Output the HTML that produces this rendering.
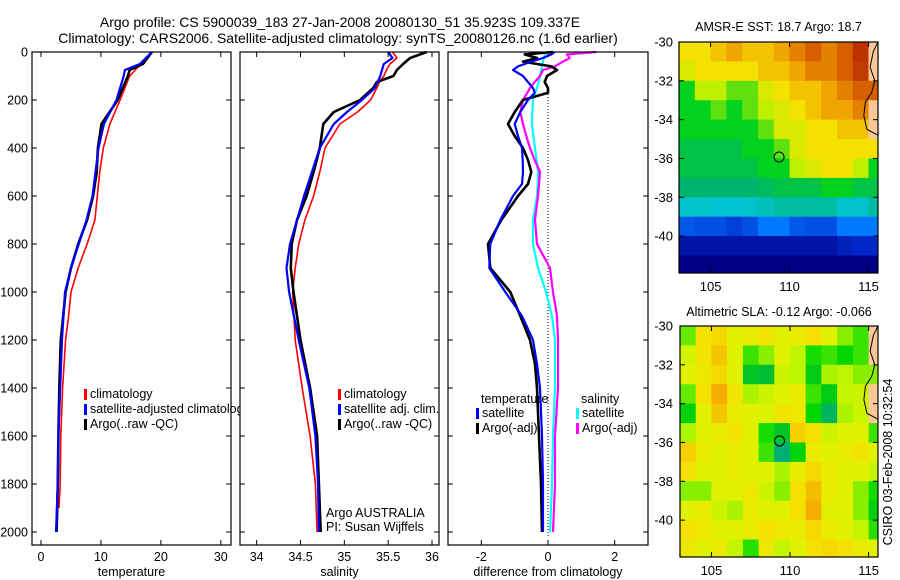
<!DOCTYPE html>
<html><head><meta charset="utf-8"><style>
body{margin:0;background:#fff;}
svg{display:block;font-family:"Liberation Sans",sans-serif;}
text{fill:#000;}
</style></head><body>
<svg id="fig" width="900" height="580" viewBox="0 0 900 580" xmlns="http://www.w3.org/2000/svg">
<text x="340" y="27" font-size="14" text-anchor="middle">Argo profile: CS 5900039_183 27-Jan-2008 20080130_51 35.923S 109.337E</text>
<text x="338" y="43" font-size="14" text-anchor="middle">Climatology: CARS2006. Satellite-adjusted climatology: synTS_20080126.nc (1.6d earlier)</text>
<g id="root"></g>
</svg>
<script>
// ---- profile data ----
const depthT = [0,50,75,100,200,300,400,500,600,700,800,900,1000,1200,1400,1600,1800,2000];
const tempArgo = [18.5,17,14.8,14.5,12.8,10.1,9.5,9.3,8.7,7.7,6.2,5.0,4.1,3.3,3.05,2.9,2.8,2.6];
const tempSat  = [18.5,16.5,14,13.8,12.6,10.5,9.6,9.1,8.6,7.6,6.3,5.0,4.0,3.5,3.2,2.9,2.8,2.5];
const depthTC = [0,100,200,300,400,500,600,700,800,900,1000,1100,1200,1400,1600,1800,1900];
const tempClim = [18.5,14.8,13.2,11.5,10.4,9.8,9.4,9.0,7.7,6.2,5.0,4.6,4.1,3.6,3.3,3.2,3.0];

const depthS = [0,25,50,75,100,125,150,200,250,300,400,500,600,700,800,900,1000,1200,1400,1600,1800,2000];
const salArgo = [35.94,35.75,35.67,35.6,35.56,35.37,35.33,35.18,34.88,34.76,34.72,34.65,34.57,34.46,34.4,34.39,34.42,34.5,34.61,34.69,34.71,34.73];
const salSat  = [35.5,35.55,35.45,35.43,35.41,35.38,35.35,35.2,35.03,34.88,34.72,34.63,34.54,34.46,34.38,34.34,34.37,34.48,34.6,34.67,34.7,34.71];
const salClim = [35.55,35.6,35.52,35.48,35.45,35.4,35.37,35.3,35.15,34.95,34.78,34.72,34.65,34.55,34.48,34.44,34.41,34.44,34.52,34.61,34.67,34.69];

const depthD = [0,10,25,40,60,75,100,125,150,170,200,250,300,350,400,450,500,550,600,700,800,900,1000,1100,1200,1300,1400,1600,1800,2000];
const dTempArgo = [0.15,-0.7,-0.33,-0.75,0.1,0.27,-0.03,-0.1,0,0,-0.75,-1,-1.2,-1,-0.75,-0.6,-0.5,-0.6,-0.9,-1.4,-1.8,-1.73,-1.13,-0.83,-0.54,-0.39,-0.33,-0.27,-0.21,-0.18];
const dTempSat  = [0.2,0.1,-0.15,-0.5,-0.9,-1.05,-0.75,-0.6,-0.45,-0.4,-0.6,-0.83,-1,-0.9,-0.78,-0.76,-0.75,-0.78,-1.05,-1.43,-1.73,-1.76,-1.28,-0.78,-0.45,-0.33,-0.24,-0.18,-0.15,-0.15];
const dSalSat   = [-0.09,-0.1,-0.12,-0.15,-0.18,-0.2,-0.24,-0.28,-0.33,-0.38,-0.45,-0.47,-0.48,-0.44,-0.39,-0.34,-0.3,-0.31,-0.33,-0.45,-0.45,-0.3,-0.06,0.12,0.21,0.21,0.21,0.15,0.12,0.06];
const dSalArgo  = [1.45,0.57,0.65,0.45,0.2,-0.15,-0.24,-0.4,-0.54,-0.62,-0.75,-0.83,-0.75,-0.65,-0.54,-0.4,-0.24,-0.27,-0.3,-0.39,-0.33,0.06,0.15,0.27,0.3,0.3,0.3,0.21,0.21,0.15];

const depthTicks = [0,200,400,600,800,1000,1200,1400,1600,1800,2000];
const tempTicks = [0,10,20,30];
const salTicks = [34,34.5,35,35.5,36];
const diffTicks = [-2,0,2];

// ---- map data (1-degree cells, rows lat -30.5..-41.5, cols lon 103.5..115.5) ----
const mapLons = [103.5,104.5,105.5,106.5,107.5,108.5,109.5,110.5,111.5,112.5,113.5,114.5,115.5];
const mapLats = [-30.5,-31.5,-32.5,-33.5,-34.5,-35.5,-36.5,-37.5,-38.5,-39.5,-40.5,-41.5];
const sstGrid = [
[20,20,20.5,21,20.5,20.5,21,21.5,22,21.5,22,22.6,null],
[19.5,20,20,20,20,20.5,20.5,21,21.5,21.5,22,22.5,null],
[18,19,19,18.5,18.5,19.5,20,20.5,20.5,21,21.5,22,22],
[18,18,18.5,18,18.5,19,19.5,20,20.5,21,21,21.5,null],
[18,18,18,18,18,18.5,19.5,19.5,20,20,20.5,20.5,null],
[17.5,17.5,17.5,17.5,18,18,18.5,19.5,20,20,20,20,20],
[17.5,17.5,17.5,17.5,17.5,18,18,19,19.5,20,20,19,18],
[17,17,17,17,17,17.2,17.5,17.5,17.5,18,18,17.5,17.5],
[16.3,16.3,16.2,16.2,16.3,16.4,16.6,16.6,16.6,16.6,16.3,16.3,16.6],
[14.6,14.5,14.5,14.3,14.5,15,15,14.6,14.5,14.5,15,15,15],
[13.5,13.5,13.5,13.5,13.5,13.5,13.5,13.5,13.5,13.5,13.8,14,14],
[13,13,13,13,13,13,13,13,13,13,13,13,13]];
const slaGrid = [
[-0.1,0.05,0.06,0,0.02,0.04,0,0.02,0.05,0,-0.08,-0.12,null],
[-0.02,0.04,0.08,0,-0.12,-0.08,0,-0.05,-0.14,-0.12,-0.15,-0.12,null],
[0,0.03,0.06,0,-0.2,-0.22,-0.03,-0.05,-0.18,-0.06,-0.05,-0.08,-0.08],
[-0.1,0.05,0.11,0.04,-0.06,-0.03,0,0.02,-0.12,-0.18,-0.04,-0.03,null],
[-0.17,0,0.08,0.02,0,-0.01,0.04,0.03,-0.15,-0.26,-0.06,-0.03,null],
[-0.06,0,0.02,0.04,0,-0.14,-0.2,0.07,0.05,-0.03,0,0,-0.12],
[0.07,0.02,0,0.02,0,-0.12,-0.28,-0.16,0.02,0,0.02,0.04,0],
[0.05,0,0,0.02,0,0,-0.06,0.02,0.06,0.02,0,0,-0.04],
[-0.08,-0.08,0,0,0.03,-0.03,-0.08,0.05,0.09,0.02,0,-0.08,-0.14],
[0,0.02,-0.03,-0.06,0.02,0,0,0.05,0.11,0,0,-0.08,-0.17],
[0.05,0.03,0,0,0.02,0.05,0.03,0.02,0.06,0.02,0,-0.04,-0.13],
[0.03,0,0.02,-0.04,-0.13,0.03,-0.04,0,0.05,0.06,0.05,0.02,0]];
const lonTicks = [105,110,115];
const latTicks = [-30,-32,-34,-36,-38,-40];
const argoLon = 109.337, argoLat = -35.923;

const NS="http://www.w3.org/2000/svg";
const root=document.getElementById('root');
function el(tag,attrs,parent){const e=document.createElementNS(NS,tag);for(const k in attrs)e.setAttribute(k,attrs[k]);(parent||root).appendChild(e);return e;}
function txt(s,x,y,size,anchor,parent){const t=el('text',{x:x,y:y,'font-size':size,'text-anchor':anchor||'start'},parent);t.textContent=s;return t;}

const PT=52, PB=545;
const yD = d => PT + (d/2054)*(PB-PT);

function panel(name,x0,x1,xmin,xmax,ticks,title,yLabels){
  const g=el('g',{});
  
  
  el('rect',{x:x0,y:PT,width:x1-x0,height:PB-PT,fill:'#fff',stroke:'none'},g);
  const sx=v=>x0+(v-xmin)/(xmax-xmin)*(x1-x0);
  return {g,sx,x0,x1,ticks,title,yLabels};
}
function finishPanel(p){
  const {g,sx,x0,x1,ticks,title,yLabels}=p;
  el('rect',{x:x0,y:PT,width:x1-x0,height:PB-PT,fill:'none',stroke:'#000','stroke-width':1.2},g);
  ticks.forEach(v=>{const x=sx(v);
    el('line',{x1:x,y1:PB,x2:x,y2:PB-5,stroke:'#000'},g);
    el('line',{x1:x,y1:PT,x2:x,y2:PT+5,stroke:'#000'},g);
    const t=txt(String(v),x,561,12.5,'middle',g);
    
    
  });
  depthTicks.forEach(d=>{const y=yD(d);
    el('line',{x1:x0,y1:y,x2:x0+5,y2:y,stroke:'#000'},g);
    el('line',{x1:x1,y1:y,x2:x1-5,y2:y,stroke:'#000'},g);
    if(yLabels){const t=txt(String(d),28,y+4.5,12.5,'end',g);
      
      }
  });
  const t=txt(title,(x0+x1)/2,576,12.5,'middle',g);
  
  
}
function line(p,xs,ds,color,w,name){
  const pts=xs.map((v,i)=>p.sx(v).toFixed(1)+','+yD(ds[i]).toFixed(1)).join(' ');
  const l=el('polyline',{points:pts,fill:'none',stroke:color,'stroke-width':w,'stroke-linejoin':'round'},p.g);
  
  
}
function legend(p,x,y,color,label,name){
  if(color) el('rect',{x:x-6,y:y-8,width:3,height:11,fill:color},p.g);
  const t=txt(label,x,y+1,12.5,'start',p.g);
  
  
}

// Panel 1 temperature
const p1=panel('temperature-panel',32,231,-1.5,31.7,tempTicks,'temperature',true);
line(p1,tempClim,depthTC,'#f00',1.6,'temp-climatology-line');
line(p1,tempArgo,depthT,'#000',2.6,'temp-argo-line');
line(p1,tempSat,depthT,'#00f',2.2,'temp-satellite-line');
legend(p1,90,397,'#f00','climatology','legend-climatology');
legend(p1,90,412,'#00f','satellite-adjusted climatology','legend-satellite-adjusted');
legend(p1,90,427,'#000','Argo(..raw -QC)','legend-argo');
finishPanel(p1);

// Panel 2 salinity
const p2=panel('salinity-panel',240,439,33.81,36.08,salTicks,'salinity',false);
line(p2,salClim,depthS,'#f00',1.6,'sal-climatology-line');
line(p2,salArgo,depthS,'#000',2.6,'sal-argo-line');
line(p2,salSat,depthS,'#00f',2.2,'sal-satellite-line');
legend(p2,344,397,'#f00','climatology','legend-climatology');
legend(p2,344,412,'#00f','satellite adj. clim.','legend-satellite-adj');
legend(p2,344,427,'#000','Argo(..raw -QC)','legend-argo');
legend(p2,326,516,null,'Argo AUSTRALIA','argo-australia-label');
legend(p2,326,530,null,'PI: Susan Wijffels','pi-label');
finishPanel(p2);

// Panel 3 difference
const p3=panel('difference-panel',448,648,-3,3,diffTicks,'difference from climatology',false);
el('line',{x1:p3.sx(0),y1:yD(150),x2:p3.sx(0),y2:yD(2020),stroke:'#000','stroke-dasharray':'1,2'},p3.g);
line(p3,dSalSat,depthD,'#0ff',2.2,'diff-sal-satellite-line');
line(p3,dSalArgo,depthD,'#f0f',2.2,'diff-sal-argo-line');
line(p3,dTempArgo,depthD,'#000',2.6,'diff-temp-argo-line');
line(p3,dTempSat,depthD,'#00f',2.2,'diff-temp-satellite-line');
legend(p3,481,402,null,'temperature','legend-temperature-header');
legend(p3,482,416,'#00f','satellite','legend-temp-satellite');
legend(p3,482,431,'#000','Argo(-adj)','legend-temp-argo');
legend(p3,581,402,null,'salinity','legend-salinity-header');
legend(p3,582,416,'#0ff','satellite','legend-sal-satellite');
legend(p3,582,431,'#f0f','Argo(-adj)','legend-sal-argo');
finishPanel(p3);

// ---- maps ----
function lerpColor(stops,v){
  if(v<=stops[0][0])return stops[0][1];
  for(let i=1;i<stops.length;i++){if(v<=stops[i][0]){const a=stops[i-1],b=stops[i];const f=(v-a[0])/(b[0]-a[0]);
    const c=a[1].map((x,k)=>Math.round(x+(b[1][k]-x)*f));return c;}}
  return stops[stops.length-1][1];
}
const sstStops=[[13,[0,0,130]],[14,[0,40,200]],[15,[0,120,255]],[16,[0,200,240]],[17,[0,180,110]],[18,[0,210,30]],[19,[190,240,0]],[20,[245,225,0]],[21,[240,165,0]],[22,[215,95,0]],[23,[170,20,0]]];
const slaStops=[[-0.3,[0,170,140]],[-0.22,[0,190,50]],[-0.15,[0,215,0]],[-0.1,[100,235,0]],[-0.05,[190,245,0]],[0,[225,242,0]],[0.05,[245,225,0]],[0.1,[245,180,0]],[0.14,[240,150,0]]];

function drawMap(name,x0,y0,x1,y1,grid,stops,title,titleY,lonLabelY){
  const g=el('g',{});
  
  
  const lonMin=103,lonMax=115.6,latMax=-30,latMin=-41.9;
  const sx=v=>x0+(v-lonMin)/(lonMax-lonMin)*(x1-x0);
  const sy=v=>y0+(latMax-v)/(latMax-latMin)*(y1-y0);
  const clip=el('clipPath',{id:name+'-clip'},g);
  el('rect',{x:x0,y:y0,width:x1-x0,height:y1-y0},clip);
  const cg=el('g',{'clip-path':'url(#'+name+'-clip)'},g);
  mapLats.forEach((lat,r)=>mapLons.forEach((lon,c)=>{
    const v=grid[r][c];
    const col=v===null?[250,200,150]:lerpColor(stops,v);
    const xa=sx(lon-0.5),xb=sx(lon+0.5),ya=sy(lat+0.5),yb=sy(lat-0.5);
    const cell=el('rect',{x:xa.toFixed(1),y:ya.toFixed(1),width:(xb-xa+0.6).toFixed(1),height:(yb-ya+0.6).toFixed(1),fill:'rgb('+col.join(',')+')'},cg);
    
    
  }));
  el('polyline',{points:[[115.6,-30],[115.3,-30.5],[115.1,-31.3],[115.4,-32],[115.2,-32.6],[114.8,-33.1],[114.7,-33.8],[114.9,-34.5],[115.6,-34.8]].map(p=>sx(p[0])+','+sy(p[1])).join(' '),fill:'none',stroke:'#000','stroke-width':1},cg);
  const m=el('circle',{cx:sx(argoLon),cy:sy(argoLat),r:5,fill:'none',stroke:'#000','stroke-width':1},g);
  
  
  el('rect',{x:x0,y:y0,width:x1-x0,height:y1-y0,fill:'none',stroke:'#000','stroke-width':1.2},g);
  lonTicks.forEach(v=>{const x=sx(v);
    el('line',{x1:x,y1:y1,x2:x,y2:y1-5,stroke:'#000'},g);
    el('line',{x1:x,y1:y0,x2:x,y2:y0+5,stroke:'#000'},g);
    const t=txt(String(v),x,lonLabelY,13,'middle',g);
    
    });
  latTicks.forEach(v=>{const y=sy(v);
    el('line',{x1:x0,y1:y,x2:x0+5,y2:y,stroke:'#000'},g);
    el('line',{x1:x1,y1:y,x2:x1-5,y2:y,stroke:'#000'},g);
    const t=txt(String(v),673,y+4.5,13,'end',g);
    
    });
  const t=txt(title,(x0+x1)/2,titleY,12.5,'middle',g);
  
  
}
drawMap('sst-map',679,42,878,273,sstGrid,sstStops,'AMSR-E SST: 18.7 Argo: 18.7',31,291);
drawMap('sla-map',680,326,878,557,slaGrid,slaStops,'Altimetric SLA: -0.12 Argo: -0.066',316,575);
const side=txt('CSIRO 03-Feb-2008 10:32:54',0,0,12.5,'middle');
side.setAttribute('transform','translate(892,462) rotate(-90)');


</script>
</body></html>
